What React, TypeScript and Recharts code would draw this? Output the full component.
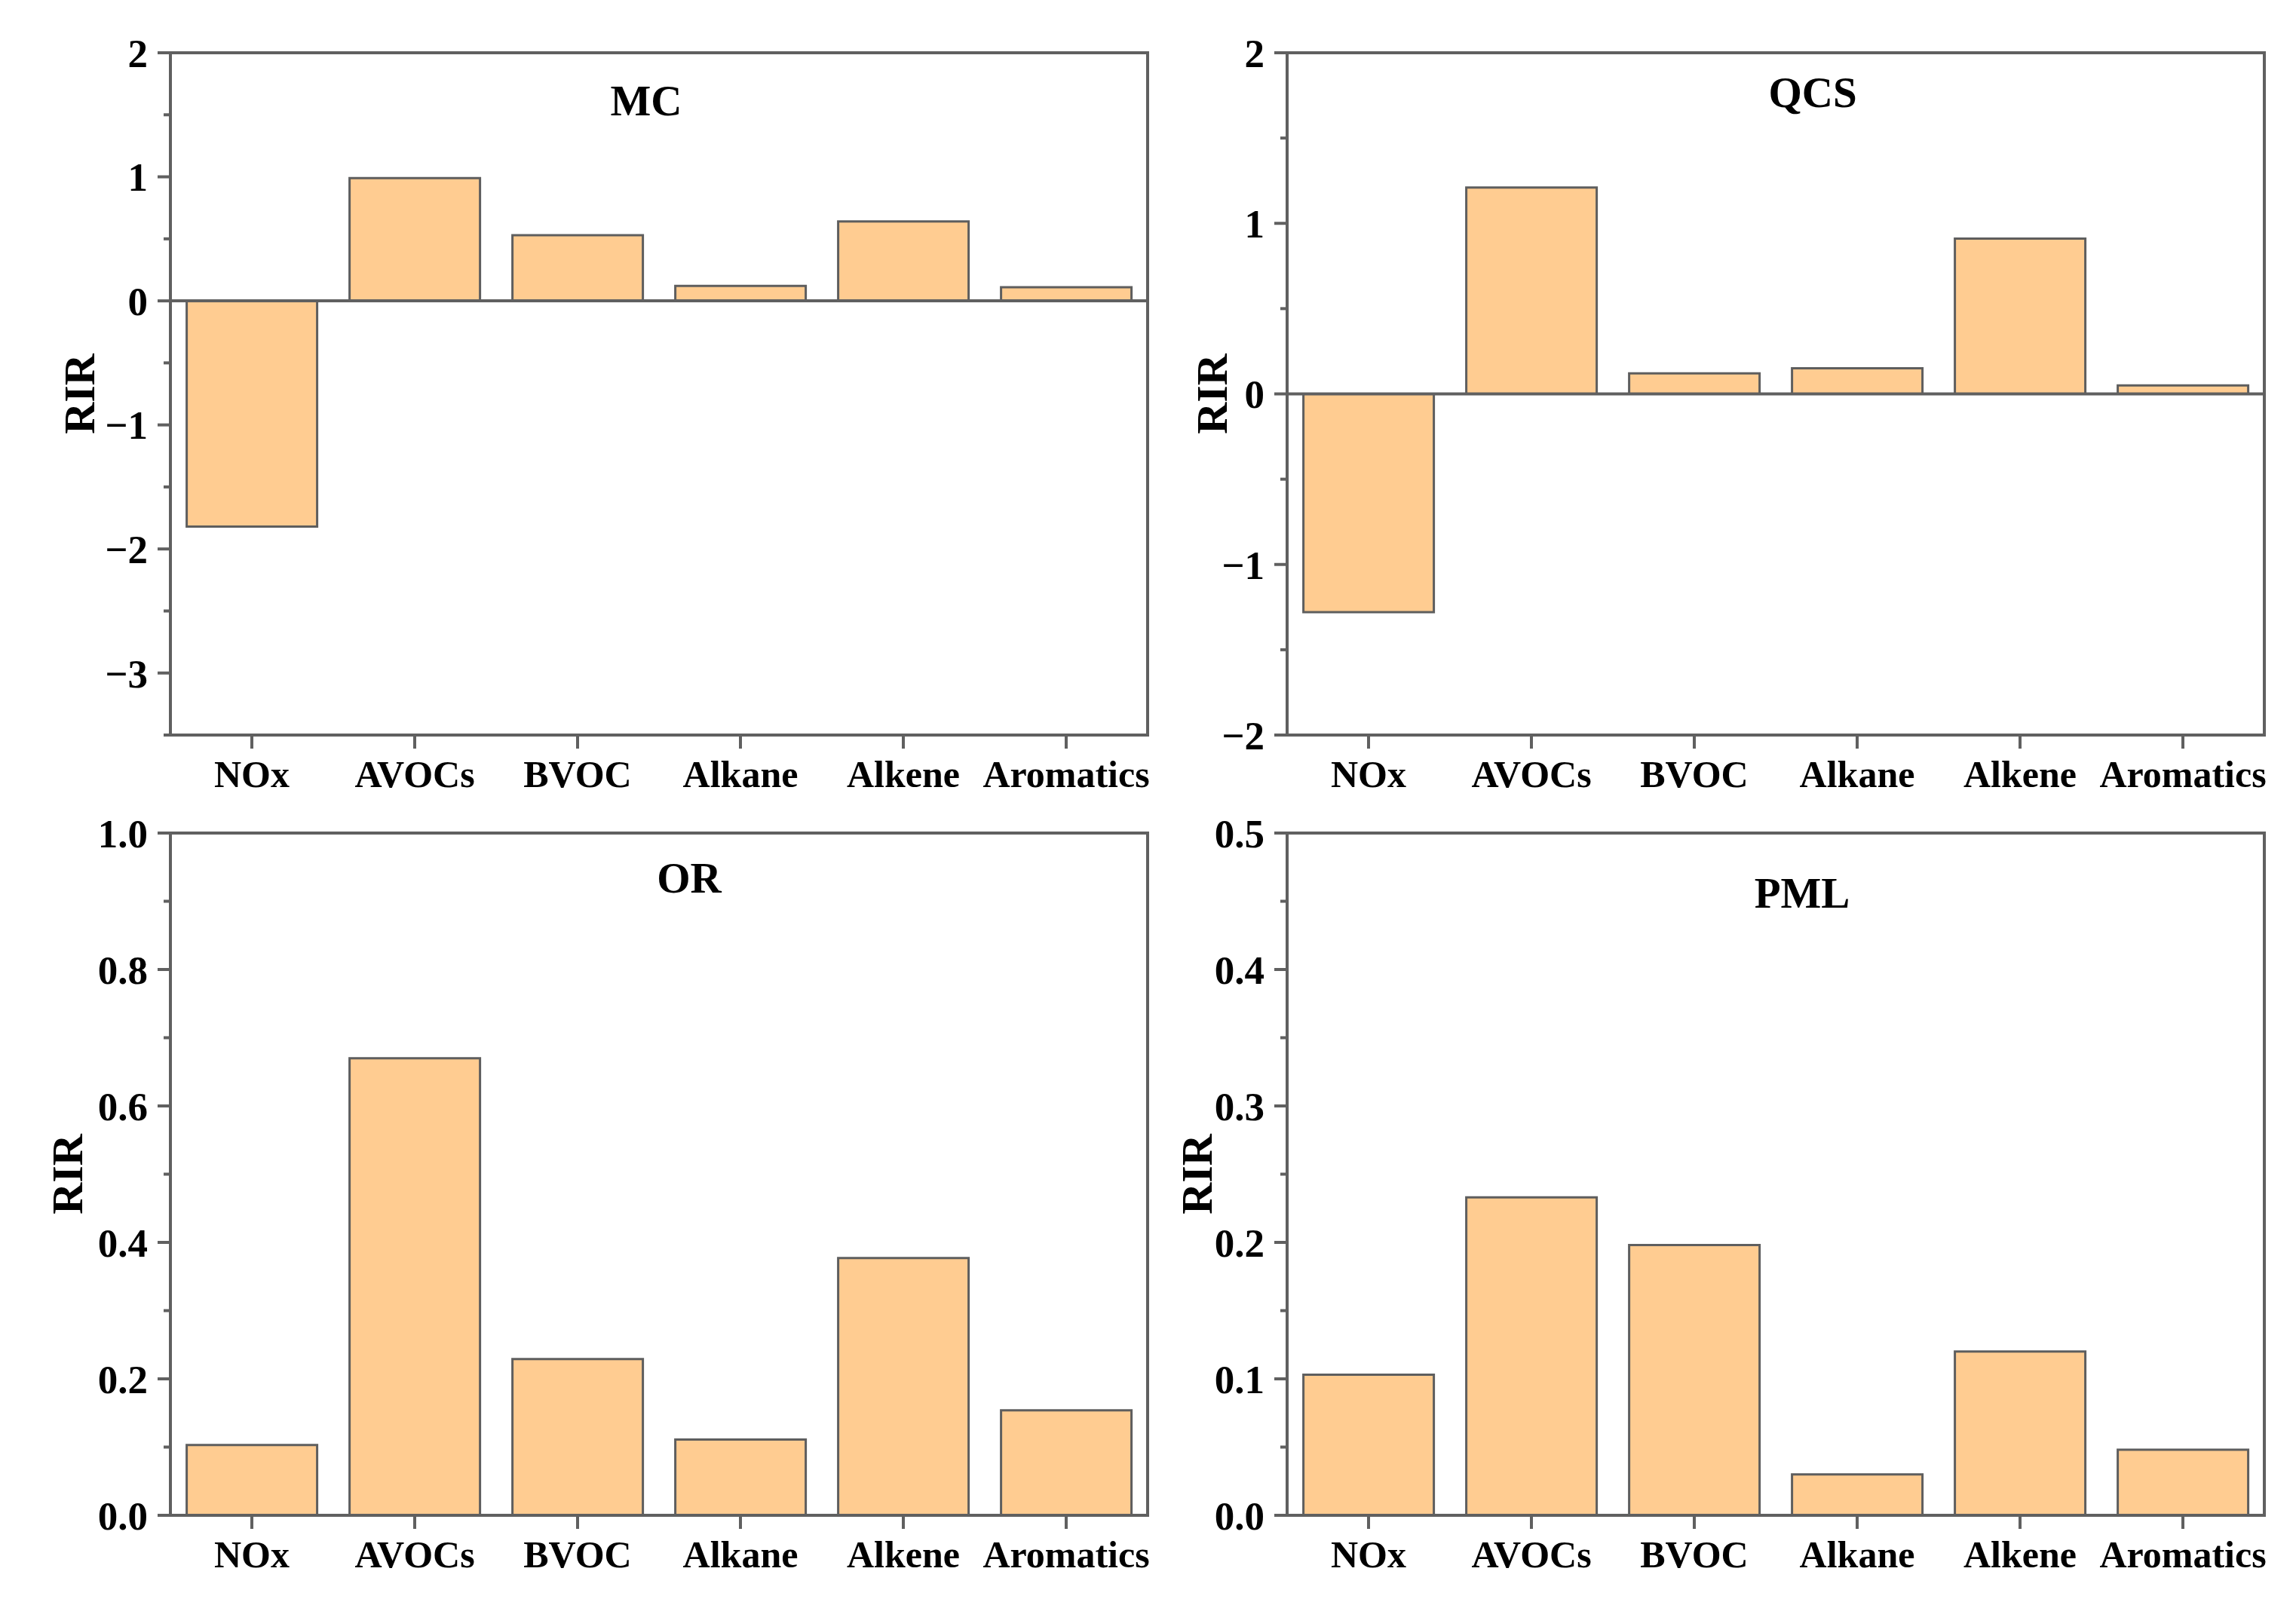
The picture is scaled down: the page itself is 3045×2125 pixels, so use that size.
import React from "react";
import { Bar, BarChart, ReferenceArea, ReferenceLine, XAxis, YAxis } from "recharts";

const categories = ["NOx", "AVOCs", "BVOC", "Alkane", "Alkene", "Aromatics"];

const mcValues = [-1.82, 0.99, 0.53, 0.12, 0.64, 0.11];
const qcsValues = [-1.28, 1.21, 0.12, 0.15, 0.91, 0.05];
const orValues = [0.103, 0.67, 0.229, 0.111, 0.377, 0.154];
const pmlValues = [0.103, 0.233, 0.198, 0.03, 0.12, 0.048];

const mcMajor = [-3, -2, -1, 0, 1, 2];
const mcMinor = [-3.5, -2.5, -1.5, -0.5, 0.5, 1.5];
const qcsMajor = [-2, -1, 0, 1, 2];
const qcsMinor = [-1.5, -0.5, 0.5, 1.5];
const orMajor = [0, 0.2, 0.4, 0.6, 0.8, 1.0];
const orMinor = [0.1, 0.3, 0.5, 0.7, 0.9];
const pmlMajor = [0, 0.1, 0.2, 0.3, 0.4, 0.5];
const pmlMinor = [0.05, 0.15, 0.25, 0.35, 0.45];

const FONT = '"Liberation Serif", "Times New Roman", serif';
const AXIS = "#606060";
const BAR_FILL = "#FFCC91";
const BAR_STROKE = "#5e5e5e";

const Y_TICK = 17;
const Y_MARGIN = 13;

function fmt(v: number, decimals: number) {
  const s = Math.abs(v).toFixed(decimals);
  return v < 0 ? "\u2212" + s : s;
}

function makeYTick(major: number[], decimals: number) {
  return (props: any) => {
    const { x, y, payload } = props;
    const axisX = x + Y_TICK + Y_MARGIN;
    const isMajor = major.some((m) => Math.abs(m - payload.value) < 1e-9);
    return (
      <g>
        <line
          x1={axisX - (isMajor ? Y_TICK : 9)}
          x2={axisX}
          y1={y}
          y2={y}
          stroke={AXIS}
          strokeWidth={4}
        />
        {isMajor && (
          <text
            x={x}
            y={y}
            dy="0.355em"
            textAnchor="end"
            fontFamily={FONT}
            fontWeight="bold"
            fontSize={53}
            fill="#000"
          >
            {fmt(payload.value, decimals)}
          </text>
        )}
      </g>
    );
  };
}

type PanelProps = {
  values: number[];
  domain: [number, number];
  major: number[];
  minor: number[];
  decimals: number;
  left: number;
  top: number;
  width: number;
  height: number;
  yAxisWidth: number;
  marginTop: number;
  marginRight: number;
  labelOffset: number;
  zeroLine: boolean;
};

function Panel(p: PanelProps) {
  const data = categories.map((name, i) => ({ name, value: p.values[i] }));
  const ticks = [...p.major, ...p.minor].sort((a, b) => a - b);
  return (
    <div style={{ position: "absolute", left: p.left, top: p.top }}>
      <BarChart
        width={p.width}
        height={p.height}
        data={data}
        margin={{ top: p.marginTop, right: p.marginRight, bottom: 0, left: 0 }}
        barCategoryGap="10%"
      >
        <XAxis
          dataKey="name"
          height={115}
          tickSize={18}
          tickMargin={15}
          interval={0}
          axisLine={{ stroke: AXIS, strokeWidth: 4 }}
          tickLine={{ stroke: AXIS, strokeWidth: 4 }}
          tick={{ fontFamily: FONT, fontWeight: "bold", fontSize: 50, fill: "#000" }}
        />
        <YAxis
          type="number"
          domain={p.domain}
          ticks={ticks}
          interval={0}
          width={p.yAxisWidth}
          tickSize={Y_TICK}
          tickMargin={Y_MARGIN}
          tickLine={false}
          allowDataOverflow
          axisLine={{ stroke: AXIS, strokeWidth: 4 }}
          tick={makeYTick(p.major, p.decimals)}
          label={{
            value: "RIR",
            angle: -90,
            position: "insideLeft",
            offset: p.labelOffset,
            style: {
              textAnchor: "middle",
              fontFamily: FONT,
              fontWeight: "bold",
              fontSize: 58,
              fill: "#000",
            },
          }}
        />
        <Bar
          dataKey="value"
          fill={BAR_FILL}
          stroke={BAR_STROKE}
          strokeWidth={3}
          isAnimationActive={false}
        />
        {p.zeroLine && <ReferenceLine y={0} stroke={AXIS} strokeWidth={4} />}
        <ReferenceArea
          x1={categories[0]}
          x2={categories[categories.length - 1]}
          y1={p.domain[0]}
          y2={p.domain[1]}
          fill="none"
          fillOpacity={0}
          stroke={AXIS}
          strokeWidth={4}
          ifOverflow="visible"
        />
      </BarChart>
    </div>
  );
}

function Title({ text, x, y }: { text: string; x: number; y: number }) {
  return (
    <div
      style={{
        position: "absolute",
        left: x,
        top: y,
        transform: "translate(-50%, -50%)",
        fontFamily: FONT,
        fontWeight: "bold",
        fontSize: 57,
        lineHeight: 1,
        whiteSpace: "nowrap",
        color: "#000",
      }}
    >
      {text}
    </div>
  );
}

export default function App() {
  return (
    <div
      style={{
        position: "absolute",
        left: 0,
        top: 0,
        width: 3045,
        height: 2125,
        background: "#fff",
      }}
    >
      <Panel
        values={mcValues}
        domain={[-3.5, 2]}
        major={mcMajor}
        minor={mcMinor}
        decimals={0}
        left={0}
        top={0}
        width={1540}
        height={1090}
        yAxisWidth={226}
        marginTop={70}
        marginRight={18}
        labelOffset={104}
        zeroLine
      />
      <Panel
        values={qcsValues}
        domain={[-2, 2]}
        major={qcsMajor}
        minor={qcsMinor}
        decimals={0}
        left={1520}
        top={0}
        width={1500}
        height={1090}
        yAxisWidth={187}
        marginTop={70}
        marginRight={17}
        labelOffset={86}
        zeroLine
      />
      <Panel
        values={orValues}
        domain={[0, 1]}
        major={orMajor}
        minor={orMinor}
        decimals={1}
        left={0}
        top={1040}
        width={1540}
        height={1085}
        yAxisWidth={226}
        marginTop={65}
        marginRight={18}
        labelOffset={88}
        zeroLine={false}
      />
      <Panel
        values={pmlValues}
        domain={[0, 0.5]}
        major={pmlMajor}
        minor={pmlMinor}
        decimals={1}
        left={1520}
        top={1040}
        width={1500}
        height={1085}
        yAxisWidth={187}
        marginTop={65}
        marginRight={17}
        labelOffset={66}
        zeroLine={false}
      />
      <Title text="MC" x={857} y={133} />
      <Title text="QCS" x={2404} y={122} />
      <Title text="OR" x={914} y={1164} />
      <Title text="PML" x={2390} y={1184} />
    </div>
  );
}
